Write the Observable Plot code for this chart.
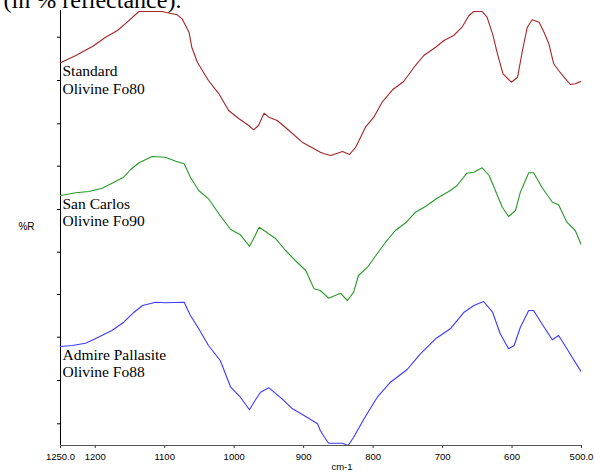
<!DOCTYPE html>
<html>
<head>
<meta charset="utf-8">
<script src="https://cdn.jsdelivr.net/npm/d3@7"></script>
<script src="https://cdn.jsdelivr.net/npm/@observablehq/plot@0.6"></script>
<style>
  html, body { margin: 0; padding: 0; background: #fff; overflow: hidden; }
  #chart svg { display: block; }
</style>
</head>
<body>
<div id="chart"></div>
<script>
// Wavenumbers (cm-1) and relative reflectance (arbitrary %R units, offset curves)
const stdWn = [1250,1228,1204,1185,1168,1154,1137,1104,1082,1075,1065,1061,1053,1037,1022,1008,993,979,972,965,957,950,938,921,902,885,876,870,861,844,834,825,811,799,787,772,756,741,727,710,698,684,672,662,655,643,636,628,621,613,601,592,585,578,571,561,554,547,540,533,523,516,509,500];
const stdR  = [382.7,390,399,408.3,415,423.3,434,434,430.7,426.7,413.3,398.3,383.3,365,351.7,335,326.7,320,315.7,320,332.3,328.3,325,315,303.3,296.7,293.3,291.7,290,294,291,298.3,318.3,328.3,343.3,355.7,364,378.3,390,398.3,405,410,418.3,430,434,434,428.3,411.7,391.7,371.7,363.3,368.3,395,418.3,425.7,423.3,413.3,401.7,381.7,375,366.7,361,361.7,364.3];

const scWn = [1250,1228,1209,1190,1173,1159,1149,1137,1118,1099,1084,1072,1063,1051,1037,1022,1005,991,978,972,964,955,940,926,912,897,885,876,864,847,837,828,821,808,796,782,768,753,739,724,708,691,679,665,655,643,633,624,614,605,595,588,576,569,557,542,533,521,509,500];
const scR  = [250,252.7,254,257.3,263.3,268.3,276,282.7,289,288.3,284.3,281.7,268.3,255,246.7,231.7,216,210.7,199.3,206.7,218.3,214,206.7,195,185,175,156.7,155,147.3,152.3,145,153.3,170,178.3,190,203.3,215,222.7,233.3,239.3,247.3,254,260,272.3,273.3,277.7,270,255,238.3,229,235,253.3,272.7,272.7,258.3,243.3,240.7,223.3,215,200];

const apWn = [1250,1233,1214,1200,1176,1159,1144,1132,1113,1099,1072,1063,1051,1037,1020,1005,991,978,970,962,950,931,916,897,880,876,870,864,844,836,828,813,794,775,751,732,710,689,669,655,641,628,617,605,597,588,576,569,557,542,533,521,509,500];
const apR  = [99,100,102.3,106.7,115,123.3,133.3,140,143.3,142.7,143.3,130,116.7,100,85,58.3,48.3,35.7,45,53.3,57.7,46.7,36.7,29,21.7,15,8.3,2.3,2.3,0,8.3,26.7,48.3,63.3,76,91.7,106.7,116.7,133.3,140,144,133.3,111.7,96.7,100,118.3,135,135,121.7,105.7,110,96.7,83.3,73.3];

const seriesNames = ["Standard\nOlivine Fo80", "San Carlos\nOlivine Fo90", "Admire Pallasite\nOlivine Fo88"];
const seriesColors = ["#a82424", "#279a27", "#3a3aff"];
const xTicks = [1250,1200,1100,1000,900,800,700,600,500];
const yTicks = [21.7,65,108.3,151,193.3,236,279.3,321.7,365,408.3];

const series = [[stdWn, stdR], [scWn, scR], [apWn, apR]];
const rows = [];
series.forEach(([wn, r], i) => wn.forEach((w, j) => rows.push({wn: w, r: r[j], name: seriesNames[i]})));
const starts = series.map(([wn, r], i) => ({wn: wn[0], r: r[0], name: seriesNames[i]}));
const fmtX = d => (d === 1250 || d === 500) ? d.toFixed(1) : String(d);

const plot = Plot.plot({
  width: 595,
  height: 475,
  marginLeft: 60,
  marginRight: 14,
  marginTop: 10,
  marginBottom: 30,
  style: {fontFamily: "Liberation Sans", fontSize: "9.5px", color: "#000", background: "#fff", overflow: "visible"},
  x: {domain: [1250, 500], ticks: xTicks, tickFormat: fmtX},
  y: {domain: [0, 435]},
  color: {domain: seriesNames, range: seriesColors},
  marks: [
    Plot.axisX({ticks: xTicks, tickFormat: fmtX, tickSize: 3, tickPadding: 5, label: null, stroke: "#333"}),
    Plot.axisY({ticks: yTicks, tickFormat: () => "", tickSize: 3, label: null, stroke: "#000"}),
    Plot.ruleY([0], {stroke: "#555"}),
    Plot.ruleX([1250], {stroke: "#000"}),
    Plot.line(rows, {x: "wn", y: "r", z: "name", stroke: "name", strokeWidth: 1.1, clip: true}),
    Plot.text(starts, {x: "wn", y: "r", text: "name", textAnchor: "start", lineAnchor: "top", dx: 2, dy: 1, lineHeight: 1.13, fontFamily: "Liberation Serif", fontSize: 15.5, fill: "#000"}),
    Plot.text(["%R"], {frameAnchor: "left", textAnchor: "middle", dx: -34, dy: -1, fontFamily: "Liberation Sans", fontSize: 10, fill: "#000"}),
    Plot.text(["cm-1"], {frameAnchor: "bottom", textAnchor: "middle", dx: 21, dy: 24, fontFamily: "Liberation Sans", fontSize: 9.5, fill: "#000"}),
    Plot.text(["(in % reflectance)."], {frameAnchor: "top-left", dx: -57, dy: -3, lineAnchor: "bottom", textAnchor: "start", fontFamily: "Liberation Serif", fontSize: 24, fill: "#000"})
  ]
});
document.getElementById("chart").appendChild(plot);
</script>
</body>
</html>
